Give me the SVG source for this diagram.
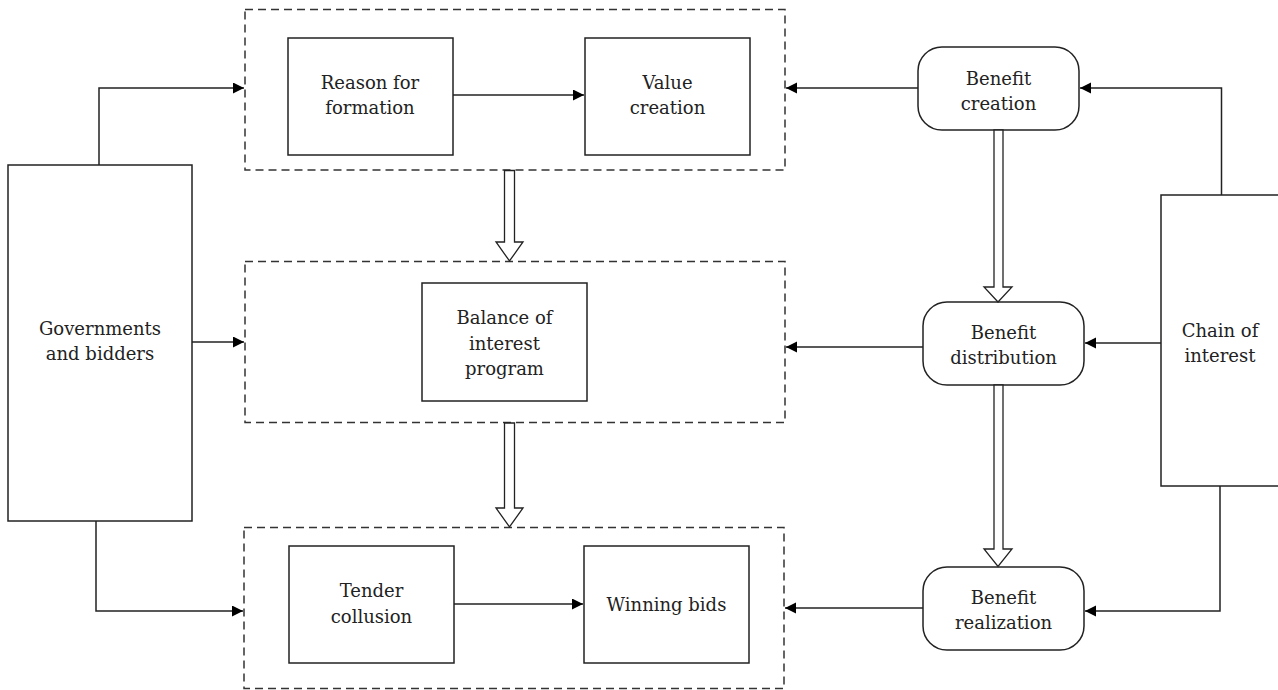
<svg xmlns="http://www.w3.org/2000/svg" width="1278" height="690" viewBox="0 0 1278 690">
<style>
.box{fill:#fff;stroke:#222;stroke-width:1.5}
.dash{fill:none;stroke:#333;stroke-width:1.5;stroke-dasharray:8 5}
.ln{fill:none;stroke:#222;stroke-width:1.5}
.dbl{fill:#fff;stroke:#222;stroke-width:1.3;stroke-linejoin:miter}
.t{font-family:"DejaVu Serif","Liberation Serif",serif;font-size:18px;fill:#222;text-anchor:middle}
</style>
<defs>
<marker id="ah" markerUnits="userSpaceOnUse" markerWidth="12" markerHeight="12" refX="11" refY="5.5" orient="auto">
<path d="M0,0 L11,5.5 L0,11 z" fill="#000"/>
</marker>
</defs>
<g id="group-top"><rect class="dash" x="245" y="9.5" width="540" height="160.5"/></g>
<g id="group-mid"><rect class="dash" x="245" y="261.5" width="540" height="161"/></g>
<g id="group-bottom"><rect class="dash" x="244" y="527.5" width="540" height="161"/></g>
<g id="node-gov"><rect class="box" x="8" y="165" width="184" height="356"/><text class="t" x="100" y="335">Governments</text><text class="t" x="100" y="360">and bidders</text></g>
<g id="node-reason"><rect class="box" x="288" y="38" width="165" height="117"/><text class="t" x="370" y="89">Reason for</text><text class="t" x="370" y="114">formation</text></g>
<g id="node-value"><rect class="box" x="585" y="38" width="165" height="117"/><text class="t" x="667.5" y="89">Value</text><text class="t" x="667.5" y="114">creation</text></g>
<g id="node-balance"><rect class="box" x="422" y="283" width="165" height="118"/><text class="t" x="504.5" y="324">Balance of</text><text class="t" x="504.5" y="350">interest</text><text class="t" x="504.5" y="375">program</text></g>
<g id="node-tender"><rect class="box" x="289" y="546" width="165" height="117"/><text class="t" x="371.5" y="597">Tender</text><text class="t" x="371.5" y="622.5">collusion</text></g>
<g id="node-winning"><rect class="box" x="584" y="546" width="165" height="117"/><text class="t" x="666.5" y="611">Winning bids</text></g>
<g id="node-bcreation"><rect class="box" x="918" y="47" width="161" height="83" rx="24"/><text class="t" x="998.5" y="85">Benefit</text><text class="t" x="998.5" y="110">creation</text></g>
<g id="node-bdist"><rect class="box" x="923" y="302" width="161" height="83" rx="24"/><text class="t" x="1003.5" y="339">Benefit</text><text class="t" x="1003.5" y="364">distribution</text></g>
<g id="node-breal"><rect class="box" x="923" y="567" width="161" height="83" rx="24"/><text class="t" x="1003.5" y="604">Benefit</text><text class="t" x="1003.5" y="629">realization</text></g>
<g id="node-chain"><rect class="box" x="1161" y="195" width="119" height="291"/><text class="t" x="1220" y="337">Chain of</text><text class="t" x="1220" y="362">interest</text></g>
<g id="connectors">
<path class="ln" d="M99,165 V88 H244" marker-end="url(#ah)"/>
<path class="ln" d="M192,342 H244" marker-end="url(#ah)"/>
<path class="ln" d="M96,521 V611 H243" marker-end="url(#ah)"/>
<path class="ln" d="M453,95 H584" marker-end="url(#ah)"/>
<path class="ln" d="M454,604 H583" marker-end="url(#ah)"/>
<path class="ln" d="M918,88 H786" marker-end="url(#ah)"/>
<path class="ln" d="M1221.5,195 V88 H1080" marker-end="url(#ah)"/>
<path class="ln" d="M923,347 H786" marker-end="url(#ah)"/>
<path class="ln" d="M1161,343 H1085" marker-end="url(#ah)"/>
<path class="ln" d="M923,608 H785" marker-end="url(#ah)"/>
<path class="ln" d="M1220,486 V611 H1085" marker-end="url(#ah)"/>
<polygon class="dbl" points="504.5,170.5 514.5,170.5 514.5,242 523,242 509.5,261 496,242 504.5,242"/>
<polygon class="dbl" points="504.5,423 514.5,423 514.5,508 523,508 509.5,527 496,508 504.5,508"/>
<polygon class="dbl" points="994,130 1003,130 1003,287 1012,287 998,302 984,287 994,287"/>
<polygon class="dbl" points="994,385 1003,385 1003,549 1012,549 998,566.5 984,549 994,549"/>
</g>
</svg>
